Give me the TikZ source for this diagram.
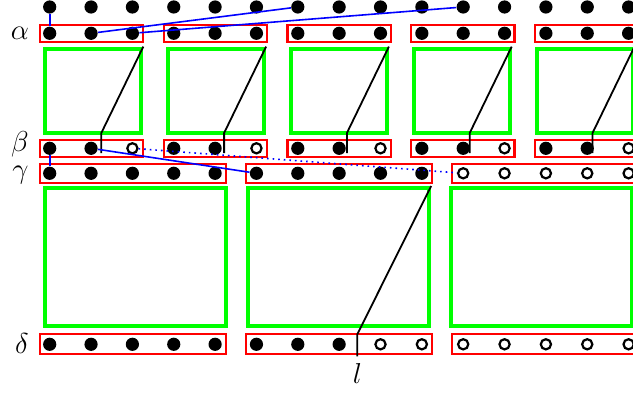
\documentclass[tikz,border=0pt]{standalone}
\usepackage{tikz}

\begin{document}
\begin{tikzpicture}[x=0.5pt, y=-0.5pt, every node/.style={font=\fontsize{15.5}{18}\selectfont},
	fdot/.style={circle, fill=black, inner sep=0pt, minimum size=6.6pt},
	odot/.style={circle, draw=black, line width=1.1pt, fill=white, inner sep=0pt, minimum size=5.1pt},
	redbox/.style={draw=red, line width=1.1pt},
	sqbox/.style={draw=green, line width=2pt, inner sep=0pt},
	cut/.style={black, line width=0.9pt},
	link/.style={blue, line width=0.8pt},
	lbl/.style={inner sep=0pt, anchor=east}]
	\useasboundingbox (0,0) rectangle (633,394);
	\clip (0,0) rectangle (633,394);
	\foreach \k in {0,...,4}
		\node[sqbox, minimum width=48pt, minimum height=42.2pt] (s\k) at ({93.3+122.8*\k},90.85) {};
	\foreach \k in {0,1,2}
		\node[sqbox, minimum width=90.5pt, minimum height=69pt] (q\k) at ({135.5+203.2*\k},257) {};
	\foreach \k in {0,...,4} {
		\draw[redbox] ({40+123.75*\k},25) rectangle ++(103.3,17.3);
		\draw[redbox] ({40+123.75*\k},140) rectangle ++(103.3,16.7);
	}
	\foreach \k in {0,1,2} {
		\draw[redbox] ({40+205.85*\k},164) rectangle ++(185.8,18.7);
		\draw[redbox] ({40+205.85*\k},334.3) rectangle ++(185.8,19.7);
	}
	\foreach \i in {0,...,14} {
		\node[fdot] (t\i) at ({49.7+41.35*\i},7) {};
		\node[fdot] (a\i) at ({49.7+41.35*\i},33.3) {};
	}
	\foreach \i in {0,1,3,4,6,7,9,10,12,13}
		\node[fdot] (b\i) at ({49.7+41.35*\i},148.3) {};
	\foreach \i in {2,5,8,11,14}
		\node[odot] (b\i) at ({49.7+41.35*\i},148.3) {};
	\foreach \i in {0,...,9}
		\node[fdot] (g\i) at ({49.7+41.35*\i},173.3) {};
	\foreach \i in {10,...,14}
		\node[odot] (g\i) at ({49.7+41.35*\i},173.3) {};
	\foreach \i in {0,...,7}
		\node[fdot] (d\i) at ({49.7+41.35*\i},344.3) {};
	\foreach \i in {8,...,14}
		\node[odot] (d\i) at ({49.7+41.35*\i},344.3) {};
	\foreach \k in {0,...,4}
		\draw[cut] (s\k.north east) -- ([xshift=-21pt, yshift=1pt]s\k.south east) -- ++(0,20);
	\node[inner sep=3.3pt] (l) at (357.3,373.3) {$l$};
	\coordinate (lfoot) at (357.3,334.3);
	\draw[cut] (q1.north east) -- (lfoot) -- (l);
	\draw[link] (t0) -- (a0);
	\draw[link] (a1) -- (t6);
	\draw[link] (a2) -- (t10);
	\draw[link] (b0) -- (g0);
	\draw[link] (b1) -- (g5);
	\draw[link, dotted] (b2) -- (g10);
	\node[lbl] (alpha) at (29.5,33.3) {$\alpha$};
	\node[lbl] (beta) at (29,144.5) {$\beta$};
	\node[lbl] (gamma) at (29,175.5) {$\gamma$};
	\node[lbl] (delta) at (29,343.5) {$\delta$};
\end{tikzpicture}
\end{document}
